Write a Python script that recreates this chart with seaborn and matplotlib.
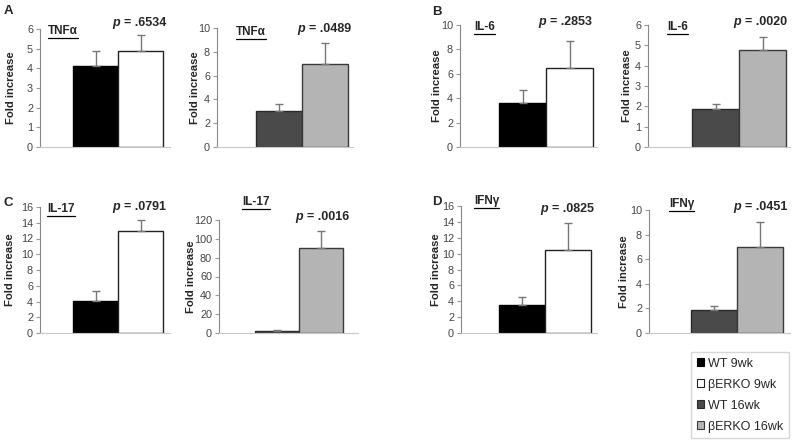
import pandas as pd
import matplotlib.pyplot as plt
import seaborn as sns
from matplotlib.patches import Patch
from matplotlib.lines import Line2D

# Data
groups = ['WT 9wk', 'βERKO 9wk', 'WT 16wk', 'βERKO 16wk']
group_colors = ['#000000', '#ffffff', '#4a4a4a', '#b4b4b4']
group_edges = ['#000000', '#222222', '#2a2a2a', '#3a3a3a']

cytokines = ['TNFα', 'TNFα', 'IL-6', 'IL-6', 'IL-17', 'IL-17', 'IFNγ', 'IFNγ']
p_values = ['.6534', '.0489', '.2853', '.0020', '.0791', '.0016', '.0825', '.0451']
wt_means = [4.1, 3.0, 3.6, 1.85, 4.1, 2.0, 3.5, 1.9]
wt_errs = [0.8, 0.6, 1.1, 0.27, 1.2, 1.0, 1.0, 0.3]
ko_means = [4.9, 7.0, 6.45, 4.75, 13.0, 90.0, 10.4, 7.0]
ko_errs = [0.8, 1.7, 2.2, 0.65, 1.3, 18.0, 3.4, 2.0]
y_max = [6, 10, 10, 6, 16, 120, 16, 10]
y_step = [1, 2, 2, 1, 2, 20, 2, 2]
panel_letters = ['A', 'B', 'C', 'D']

# layout in pixels (x from left, y from top)
W, H = 800, 442
# axis left, axis right, bar left, bar right, top (y max), bottom (0)
boxes = [(40, 170, 73, 163, 29, 147), (217, 353, 256, 348, 28, 147),
         (460, 597, 499, 593, 25, 147), (648, 790, 692, 786, 25, 147),
         (40, 170, 73, 163, 207, 333), (219, 358, 255, 343, 220, 333),
         (461, 597, 499, 591, 206, 333), (649, 790, 691, 783, 210, 333)]
title_pos = [(48, 31), (236, 32), (474, 27), (667, 27),
             (47, 209), (242, 202), (474, 201), (669, 204)]
p_pos = [(112, 23), (297, 29), (538, 22), (733, 22),
         (112, 207), (295, 217), (540, 209), (733, 207)]
# right edge of the rotated y label
ylabel_x = [16, 200, 442, 632, 15, 196, 441, 629]
letter_pos = [(8, 11), (437, 12), (8, 203), (437, 202)]

sns.set_style('white')
plt.rcParams['font.family'] = ['Liberation Sans', 'DejaVu Sans']
tick_family = ['Liberation Sans Narrow', 'Liberation Sans', 'DejaVu Sans']

fig = plt.figure(figsize=(W / 100, H / 100), dpi=100)
titles = []

for i in range(8):
    L, R, bl, br, top, bot = boxes[i]
    ax = fig.add_axes([L / W, 1 - bot / H, (R - L) / W, (bot - top) / H])
    g = [0, 1] if i % 2 == 0 else [2, 3]
    df = pd.DataFrame({'group': [groups[g[0]], groups[g[1]]],
                       'value': [wt_means[i], ko_means[i]]})
    sns.barplot(data=df, x='group', y='value', hue='group',
                palette=[group_colors[g[0]], group_colors[g[1]]],
                width=1, ax=ax, legend=False, linewidth=1, errorbar=None)
    for patch, k in zip(ax.patches, g):
        patch.set_edgecolor(group_edges[k])
        patch.set_zorder(2)
    ax.errorbar([0, 1], [wt_means[i], ko_means[i]],
                yerr=[[0, 0], [wt_errs[i], ko_errs[i]]],
                fmt='none', ecolor='#777777', elinewidth=1, capsize=3,
                capthick=1, zorder=3)
    s = (br - bl) / 2
    ax.set_xlim(-0.5 - (bl - L) / s, 1.5 + (R - br) / s)
    ax.set_ylim(0, y_max[i])
    ax.set_yticks(range(0, y_max[i] + 1, y_step[i]))
    ax.tick_params(axis='y', labelsize=7.8, labelcolor='#444444', length=3,
                   width=0.8, color='#999999', left=True, pad=2)
    for lab in ax.get_yticklabels():
        lab.set_family(tick_family)
    ax.set_xticks([])
    ax.set_xlabel('')
    ax.set_ylabel('Fold increase', fontsize=8.1, fontweight='bold')
    ax.yaxis.set_label_coords((ylabel_x[i] - L) / (R - L), 0.5)
    for side in ['top', 'right']:
        ax.spines[side].set_visible(False)
    ax.spines['left'].set_color('#888888')
    ax.spines['left'].set_linewidth(0.8)
    ax.spines['bottom'].set_color('#c8c8c8')
    ax.spines['bottom'].set_linewidth(0.8)

    tx, ty = title_pos[i]
    t = fig.text(tx / W, 1 - ty / H, cytokines[i], fontsize=8.5,
                 fontweight='bold', ha='left', va='center')
    titles.append(t)
    px, py = p_pos[i]
    fig.text(px / W, 1 - py / H, 'p', fontsize=9, fontweight='bold',
             fontstyle='italic', ha='left', va='center')
    fig.text((px + 12) / W, 1 - py / H, '= ' + p_values[i], fontsize=9,
             fontweight='bold', ha='left', va='center')

for letter, (lx, ly) in zip(panel_letters, letter_pos):
    fig.text(lx / W, 1 - ly / H, letter, fontsize=9.5, fontweight='bold',
             ha='center', va='center')

# underline the cytokine names
fig.canvas.draw()
renderer = fig.canvas.get_renderer()
for t in titles:
    bb = t.get_window_extent(renderer)
    y = (bb.y0 - 1) / H
    fig.add_artist(Line2D([bb.x0 / W, bb.x1 / W], [y, y], color='black',
                          linewidth=0.9, transform=fig.transFigure))

handles = [Patch(facecolor=c, edgecolor=e, linewidth=0.8)
           for c, e in zip(group_colors, group_edges)]
fig.legend(handles, groups, loc='upper left',
           bbox_to_anchor=(691 / W, 1 - 352 / H), frameon=True, fancybox=False,
           edgecolor='#cccccc', fontsize=9, handlelength=0.6,
           handleheight=0.6, labelspacing=0.72, borderpad=0.45,
           handletextpad=0.35, borderaxespad=0)

fig.savefig('out.png', dpi=100)
